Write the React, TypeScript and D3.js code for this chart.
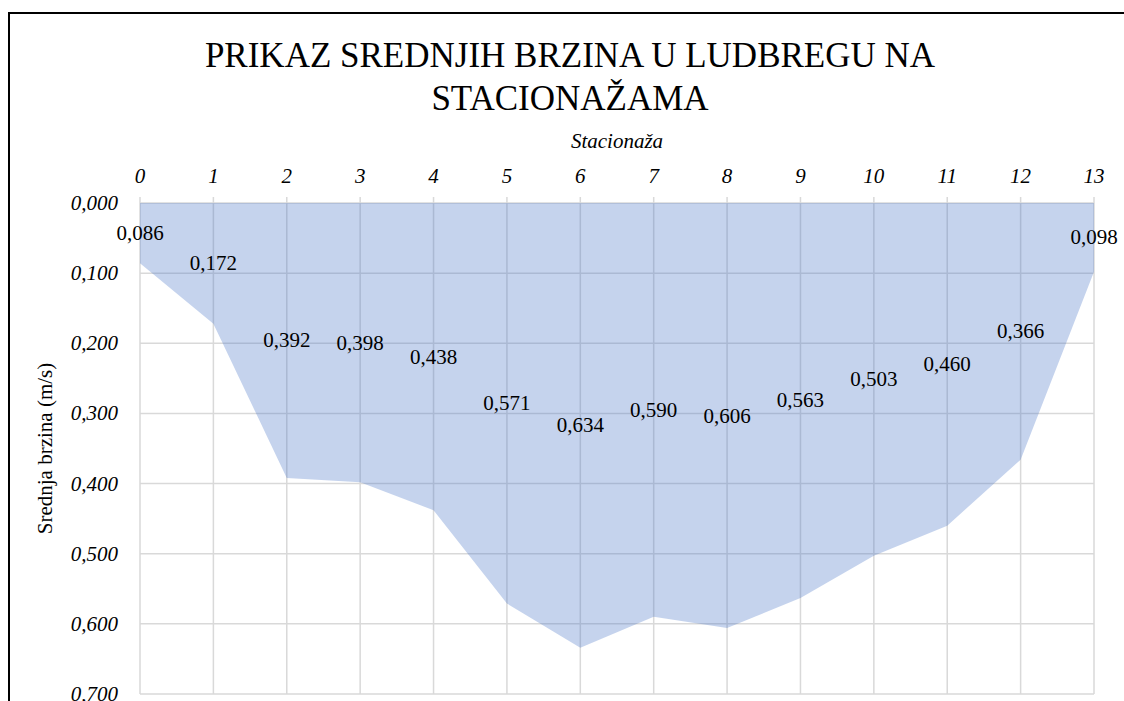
import React, { useRef, useEffect } from 'react';
import * as d3 from 'd3';

const stations = [0, 1, 2, 3, 4, 5, 6, 7, 8, 9, 10, 11, 12, 13];
const speeds = [0.086, 0.172, 0.392, 0.398, 0.438, 0.571, 0.634, 0.59, 0.606, 0.563, 0.503, 0.46, 0.366, 0.098];
const yTicks = [0, 0.1, 0.2, 0.3, 0.4, 0.5, 0.6, 0.7];
const titleLines = ['PRIKAZ SREDNJIH BRZINA U LUDBREGU NA', 'STACIONAŽAMA'];

const W = 1124;
const H = 701;
const FONT = "'Liberation Serif', Tinos, 'Times New Roman', serif";
const comma = (v: number) => d3.format('.3f')(v).replace('.', ',');

export default function App() {
  const svgRef = useRef<SVGSVGElement>(null);

  useEffect(() => {
    const svg = d3.select(svgRef.current);
    svg.selectAll('*').remove();

    const x = d3.scaleLinear().domain([0, 13]).range([140, 1094]);
    const y = d3.scaleLinear().domain([0, 0.7]).range([203, 694]);

    svg
      .append('rect')
      .attr('x', 9)
      .attr('y', 13)
      .attr('width', W + 20)
      .attr('height', H + 20)
      .attr('fill', '#fff')
      .attr('stroke', '#000')
      .attr('stroke-width', 2);

    const addText = (content: string, size: number, italic: boolean) =>
      svg
        .append('text')
        .text(content)
        .attr('fill', '#000')
        .style('font-family', FONT, 'important')
        .style('font-size', size + 'px', 'important')
        .style('font-style', italic ? 'italic' : 'normal', 'important');

    titleLines.forEach((t, i) => {
      addText(t, 35, false).attr('x', 570).attr('y', 67 + i * 43).attr('text-anchor', 'middle');
    });
    addText('Stacionaža', 21, true).attr('x', 617).attr('y', 148).attr('text-anchor', 'middle');

    // grid
    svg
      .selectAll('line.h')
      .data(yTicks)
      .enter()
      .append('line')
      .attr('x1', x(0))
      .attr('x2', x(13))
      .attr('y1', (d) => y(d))
      .attr('y2', (d) => y(d))
      .attr('stroke', '#d9d9d9')
      .attr('stroke-width', 1.5);
    svg
      .selectAll('line.v')
      .data(stations)
      .enter()
      .append('line')
      .attr('x1', (d) => x(d))
      .attr('x2', (d) => x(d))
      .attr('y1', y(0) - 6)
      .attr('y2', y(0.7))
      .attr('stroke', '#d9d9d9')
      .attr('stroke-width', 1.5);

    const myArea = d3
      .area<number>()
      .x((d, i) => x(stations[i]))
      .y0(y(0))
      .y1((d) => y(d));
    svg
      .append('path')
      .datum(speeds)
      .attr('d', myArea)
      .attr('fill', '#4472C4')
      .attr('fill-opacity', 0.31);

    stations.forEach((s) => {
      addText(String(s), 21, true).attr('x', x(s)).attr('y', 183).attr('text-anchor', 'middle');
    });
    yTicks.forEach((t) => {
      addText(comma(t), 21, true).attr('x', 118).attr('y', y(t) + 7).attr('text-anchor', 'end');
    });

    addText('Srednja brzina (m/s)', 21, false)
      .attr('transform', `translate(52,${(y(0) + y(0.7)) / 2}) rotate(-90)`)
      .attr('text-anchor', 'middle');

    speeds.forEach((v, i) => {
      addText(comma(v), 21, false)
        .attr('x', x(stations[i]))
        .attr('y', y(v / 2) + 7)
        .attr('text-anchor', 'middle');
    });
  }, []);

  return (
    <svg
      ref={svgRef}
      width={W}
      height={H}
      style={{ position: 'absolute', left: 0, top: 0, background: '#fff' }}
    />
  );
}
